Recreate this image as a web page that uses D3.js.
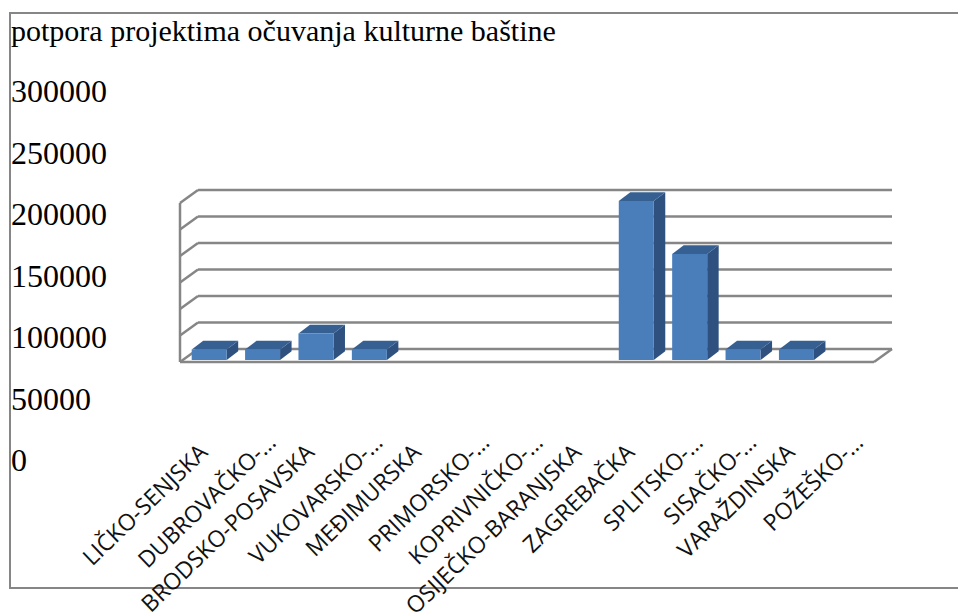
<!DOCTYPE html>
<html>
<head>
<meta charset="utf-8">
<script src="https://cdn.jsdelivr.net/npm/d3@7"></script>
<style>
  html, body { margin: 0; padding: 0; background: #fff; overflow: hidden; }
  svg { display: block; }
</style>
</head>
<body>
<svg id="chart" width="958" height="613"></svg>
<script>
const title = 'potpora projektima očuvanja kulturne baštine';
const categories = ['LIČKO-SENJSKA', 'DUBROVAČKO-…', 'BRODSKO-POSAVSKA', 'VUKOVARSKO-…', 'MEĐIMURSKA', 'PRIMORSKO-…', 'KOPRIVNIČKO-…', 'OSIJEČKO-BARANJSKA', 'ZAGREBAČKA', 'SPLITSKO-…', 'SISAČKO-…', 'VARAŽDINSKA', 'POŽEŠKO-…'];
const values = [20000, 20000, 50000, 20000, 0, 0, 0, 0, 300000, 200000, 20000, 20000, 0];
const tickValues = [0, 50000, 100000, 150000, 200000, 250000, 300000];

const svg = d3.select('#chart');
const grey = '#868686';

// the front plane of the box, the back wall sits up and to the right of it
const depth = { x: 18, y: -13 };
const barDepth = { x: 11.5, y: -8.7 };
const barInset = { x: 11.7, y: -2 };
const barWidth = 35;

const x = d3.scaleBand().domain(categories).range([180, 874]);
const y = d3.scaleLinear().domain([0, 300000]).range([362, 203]);
// tick labels do not line up with the gridlines in the original
const labelY = d3.scaleLinear().domain([0, 300000]).range([471, 102]);

// frame
svg.append('path')
  .attr('d', 'M958,13H10V588H958')
  .attr('fill', 'none')
  .attr('stroke', grey)
  .attr('stroke-width', 2);

svg.append('text')
  .text(title)
  .attr('x', 11)
  .attr('y', 41)
  .style('font-family', '"Liberation Serif"')
  .style('font-size', '30px')
  .style('fill', '#000');

// gridlines on the back wall
const gridG = svg.append('g')
  .attr('stroke', grey)
  .attr('stroke-width', 2.5)
  .attr('fill', 'none');

gridG.selectAll('.grid')
  .data(tickValues)
  .join('line')
  .attr('class', 'grid')
  .attr('x1', x.range()[0] + depth.x)
  .attr('x2', x.range()[1] + depth.x)
  .attr('y1', d => y(d) + depth.y)
  .attr('y2', d => y(d) + depth.y);

// left wall
gridG.selectAll('.wall')
  .data(tickValues)
  .join('line')
  .attr('class', 'wall')
  .attr('x1', x.range()[0])
  .attr('x2', x.range()[0] + depth.x)
  .attr('y1', d => y(d))
  .attr('y2', d => y(d) + depth.y);

gridG.append('line')
  .attr('x1', x.range()[0])
  .attr('x2', x.range()[0])
  .attr('y1', y(0))
  .attr('y2', y(300000));

// floor
gridG.append('line')
  .attr('x1', x.range()[0])
  .attr('x2', x.range()[1])
  .attr('y1', y(0))
  .attr('y2', y(0));
gridG.append('line')
  .attr('x1', x.range()[1])
  .attr('x2', x.range()[1] + depth.x)
  .attr('y1', y(0))
  .attr('y2', y(0) + depth.y);

// bars
const barData = categories
  .map((c, i) => ({ category: c, value: values[i] }))
  .filter(d => d.value > 0);

const barG = svg.selectAll('.bar')
  .data(barData)
  .join('g')
  .attr('class', 'bar')
  .attr('transform', d => `translate(${x(d.category) + barInset.x}, ${barInset.y})`);

barG.append('path')
  .attr('d', d => `M${barWidth},${y(d.value)}l${barDepth.x},${barDepth.y}V${y(0) + barDepth.y}l${-barDepth.x},${-barDepth.y}Z`)
  .attr('fill', '#2f5180');

barG.append('path')
  .attr('d', d => `M0,${y(d.value)}l${barDepth.x},${barDepth.y}h${barWidth}l${-barDepth.x},${-barDepth.y}Z`)
  .attr('fill', '#376092');

barG.append('rect')
  .attr('x', 0)
  .attr('y', d => y(d.value))
  .attr('width', barWidth)
  .attr('height', d => y(0) - y(d.value))
  .attr('fill', '#4a7ebb');

// value labels
svg.selectAll('.tick-label')
  .data(tickValues)
  .join('text')
  .attr('class', 'tick-label')
  .text(d => d)
  .attr('x', 11)
  .attr('y', d => labelY(d))
  .style('font-family', '"Liberation Serif"')
  .style('font-size', '32px')
  .style('fill', '#000');

// category labels, cut ones reach further up and right
svg.selectAll('.cat-label')
  .data(categories)
  .join('text')
  .attr('class', 'cat-label')
  .text(d => d)
  .attr('text-anchor', 'end')
  .attr('transform', d => {
    const cut = d.endsWith('…');
    return `translate(${x(d) + (cut ? 44 : 29)}, ${cut ? 444 : 454}) rotate(-44)`;
  })
  .style('font-family', '"Open Sans"')
  .style('font-size', '23px')
  .style('fill', '#111');
</script>
</body>
</html>
